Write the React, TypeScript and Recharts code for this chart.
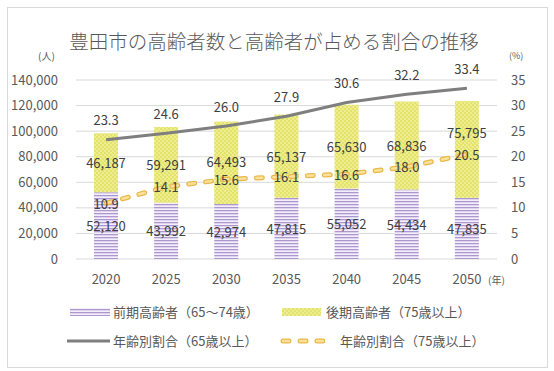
import { Bar, CartesianGrid, ComposedChart, LabelList, Line, XAxis, YAxis } from "recharts";

const years = ["2020", "2025", "2030", "2035", "2040", "2045", "2050"];
const earlyElderly = [52120, 43992, 42974, 47815, 55052, 54434, 47835];
const lateElderly = [46187, 59291, 64493, 65137, 65630, 68836, 75795];
const ratio65 = [23.3, 24.6, 26.0, 27.9, 30.6, 32.2, 33.4];
const ratio75 = [10.9, 14.1, 15.6, 16.1, 16.6, 18.0, 20.5];
const peopleTicks = [0, 20000, 40000, 60000, 80000, 100000, 120000, 140000];
const percentTicks = [0, 5, 10, 15, 20, 25, 30, 35];

const data = years.map((year, i) => ({
  year,
  early: earlyElderly[i],
  late: lateElderly[i],
  r65: ratio65[i],
  r75: ratio75[i],
}));

const FONT = '"Noto Sans CJK JP", "Noto Sans", sans-serif';
const TEXT = "#595959";
const LABEL = "#404040";

function Patterns({ prefix }: { prefix: string }) {
  return (
    <defs>
      <pattern id={`${prefix}-stripe`} width="4" height="3" patternUnits="userSpaceOnUse">
        <rect width="4" height="3" fill="#f3effa" />
        <rect width="4" height="1.3" fill="#ae97cf" />
      </pattern>
      <pattern id={`${prefix}-check`} width="4" height="4" patternUnits="userSpaceOnUse">
        <rect width="4" height="4" fill="#eeee8e" />
        <rect width="2" height="2" fill="#e2e26c" />
        <rect x="2" y="2" width="2" height="2" fill="#e2e26c" />
      </pattern>
    </defs>
  );
}

const fmt = (v: number) => v.toLocaleString("en-US");

function barLabel(nudge: Record<number, number>) {
  return (props: any) => {
    const { x, y, width, height, value, index } = props;
    const dy = nudge[index] ?? 0;
    return (
      <text x={x + width / 2} y={y + height / 2 + dy} textAnchor="middle" dominantBaseline="central" fontSize={13} fill={LABEL}>
        {fmt(Number(value))}
      </text>
    );
  };
}

function pointLabel(offset: number) {
  return (props: any) => {
    const { x, y, value, index } = props;
    return (
      <text key={index} x={x} y={y + offset} textAnchor="middle" dominantBaseline="central" fontSize={13} fill={LABEL}>
        {Number(value).toFixed(1)}
      </text>
    );
  };
}

function LegendRow({ top, items }: { top: number; items: { left: number; textLeft: number; swatch: JSX.Element; text: string }[] }) {
  return (
    <>
      {items.map((it) => (
        <div key={it.text}>
          <svg style={{ position: "absolute", left: it.left, top: top - 6 }} width={46} height={12}>
            {it.swatch}
          </svg>
          <div style={{ position: "absolute", left: it.textLeft, top: top - 9, fontSize: 13, lineHeight: "18px", color: TEXT, whiteSpace: "nowrap" }}>
            {it.text}
          </div>
        </div>
      ))}
    </>
  );
}

export default function App() {
  return (
    <div style={{ position: "absolute", left: 0, top: 0, width: 554, height: 371, background: "#fff", fontFamily: FONT }}>
      <div style={{ position: "absolute", left: 7, top: 7, width: 539, height: 359, border: "1px solid #d9d9d9" }} />
      <div style={{ position: "absolute", left: 0, top: 28, width: 548, textAlign: "center", fontSize: 19.5, fontWeight: 300, lineHeight: "26px", color: TEXT }}>
        豊田市の高齢者数と高齢者が占める割合の推移
      </div>
      <div style={{ position: "absolute", left: 38, top: 48, fontSize: 10, color: TEXT }}>(人)</div>
      <div style={{ position: "absolute", left: 509, top: 49, fontSize: 9, color: TEXT }}>(%)</div>
      <div style={{ position: "absolute", left: 488, top: 272, fontSize: 10, color: TEXT }}>(年)</div>

      <div style={{ position: "absolute", left: 0, top: 0 }}>
        <ComposedChart width={554} height={371} data={data} margin={{ top: 80, right: 0, left: 0, bottom: 82 }}>
          <Patterns prefix="bar" />
          <CartesianGrid vertical={false} stroke="#d9d9d9" yAxisId="left" />
          <XAxis dataKey="year" height={30} tickLine={false} axisLine={false} tickSize={0} tickMargin={16} tick={{ fill: TEXT, fontSize: 13 }} />
          <YAxis yAxisId="left" width={76} domain={[0, 140000]} ticks={peopleTicks} tickLine={false} axisLine={false} tickSize={0} tickMargin={18} tick={{ fill: TEXT, fontSize: 13 }} tickFormatter={(v) => fmt(Number(v))} />
          <YAxis yAxisId="right" orientation="right" width={57} domain={[0, 35]} ticks={percentTicks} tickLine={false} axisLine={false} tickSize={0} tickMargin={14} tick={{ fill: TEXT, fontSize: 13 }} />
          <Bar yAxisId="left" dataKey="early" stackId="a" fill="url(#bar-stripe)" barSize={24} isAnimationActive={false}>
            <LabelList dataKey="early" content={barLabel({})} />
          </Bar>
          <Bar yAxisId="left" dataKey="late" stackId="a" fill="url(#bar-check)" barSize={24} isAnimationActive={false}>
            <LabelList dataKey="late" content={barLabel({ 2: -1, 6: -17 })} />
          </Bar>
          <Line yAxisId="right" dataKey="r65" stroke="#7f7f7f" strokeWidth={3} dot={false} isAnimationActive={false} label={pointLabel(-20)} />
          <Line yAxisId="right" dataKey="r75" stroke="#e8b84a" strokeWidth={5} strokeDasharray="6 11" strokeLinecap="round" dot={false} isAnimationActive={false} />
          <Line yAxisId="right" dataKey="r75" stroke="#fbe29a" strokeWidth={2.5} strokeDasharray="6 11" strokeLinecap="round" dot={false} isAnimationActive={false} label={pointLabel(0)} />
        </ComposedChart>
      </div>

      <LegendRow
        top={312}
        items={[
          {
            left: 70,
            textLeft: 113,
            text: "前期高齢者（65～74歳）",
            swatch: (
              <>
                <Patterns prefix="lg1" />
                <rect x={0} y={2} width={40} height={8} fill="url(#lg1-stripe)" />
              </>
            ),
          },
          {
            left: 282,
            textLeft: 326,
            text: "後期高齢者（75歳以上）",
            swatch: (
              <>
                <Patterns prefix="lg2" />
                <rect x={0} y={2} width={39} height={8} fill="url(#lg2-check)" />
              </>
            ),
          },
        ]}
      />
      <LegendRow
        top={341}
        items={[
          {
            left: 67,
            textLeft: 113,
            text: "年齢別割合（65歳以上）",
            swatch: <line x1={0} y1={6} x2={43} y2={6} stroke="#7f7f7f" strokeWidth={3} />,
          },
          {
            left: 279,
            textLeft: 340,
            text: "年齢別割合（75歳以上）",
            swatch: (
              <>
                <line x1={4} y1={6} x2={44} y2={6} stroke="#e8b84a" strokeWidth={5} strokeDasharray="6 11" strokeLinecap="round" />
                <line x1={4} y1={6} x2={44} y2={6} stroke="#fbe29a" strokeWidth={2.5} strokeDasharray="6 11" strokeLinecap="round" />
              </>
            ),
          },
        ]}
      />
    </div>
  );
}
